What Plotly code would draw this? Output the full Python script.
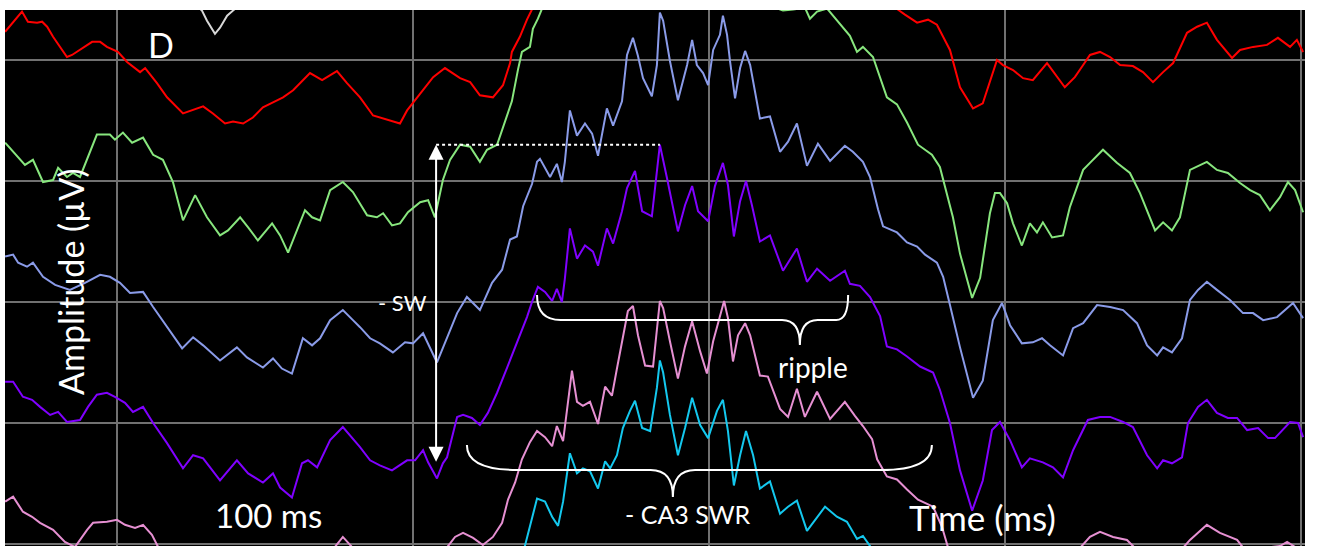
import plotly.graph_objects as go

# Stacked LFP channels: (time in ms, amplitude in µV relative to the channel baseline)
CHANNEL_STEP = 120  # µV between stacked channel baselines

ch_white = [(23.0, -56), (28.7, -71), (30.4, -81), (33.1, -94), (34.8, -88), (37.2, -76),
            (39.2, -71), (44.9, -56)]

ch_red = [(-37.8, 28), (-32.1, 48), (-30.1, 38), (-27.0, 37), (-25.3, 38), (-23.6, 33), (-21.6, 23),
          (-16.9, 3), (-15.2, 5), (-12.5, 10), (-8.4, 18), (-5.7, 18), (-3.4, 13), (0.3, 8), (3.4, -2),
          (7.8, -12), (9.5, -8), (13.5, -23), (16.9, -37), (22.3, -53), (25.3, -50), (29.1, -46),
          (32.4, -53), (36.5, -63), (39.2, -61), (42.6, -63), (45.9, -57), (49.3, -47), (52.7, -42),
          (56.1, -37), (59.5, -30), (65.2, -13), (69.3, -20), (74.3, -11), (77.7, -23), (82.1, -37),
          (86.5, -55), (92.2, -60), (95.6, -63), (98.0, -50), (101.4, -37), (106.8, -17), (110.8, -8),
          (115.9, -18), (119.3, -22), (122.6, -35), (127.0, -37), (130.4, -25), (132.8, -3), (133.4, 8),
          (136.1, 23), (138.5, 40), (140.5, 52), (149.7, 100), (197.0, 140), (251.0, 100), (261.1, 60),
          (263.8, 50), (266.2, 45), (270.3, 37), (274.0, 40), (277.0, 35), (281.4, 10), (284.8, -27),
          (289.2, -48), (292.5, -43), (297.3, 0), (299.3, -5), (302.7, -10), (306.1, -18), (309.4, -20),
          (314.2, -3), (320.2, -27), (323.6, -17), (326.4, -5), (328.7, 5), (332.1, 8), (335.5, 3),
          (338.9, -5), (343.2, -6), (346.6, -12), (350.0, -22), (353.4, -12), (356.8, -3), (361.5, 27),
          (364.9, 33), (368.2, 37), (371.6, 20), (376.7, 2), (379.4, 10), (383.8, 13), (388.5, 15),
          (392.2, 22), (396.3, 13), (398.6, 20), (400.7, 8)]

ch_green = [(-37.8, 38), (-35.1, 29), (-31.1, 16), (-28.4, 21), (-25.0, -1), (-21.6, 1), (-19.9, 13),
            (-16.9, 4), (-14.9, 8), (-12.5, 4), (-10.1, 21), (-6.8, 46), (-2.4, 46), (-0.7, 41), (2.0, 48),
            (5.1, 38), (8.8, 43), (12.2, 26), (15.5, 21), (18.9, -1), (22.3, -39), (26.4, -14),
            (30.4, -36), (34.8, -54), (37.5, -49), (41.6, -36), (44.3, -46), (47.6, -59), (52.4, -42),
            (55.1, -54), (57.8, -71), (61.1, -46), (63.5, -29), (65.9, -36), (68.6, -39), (72.0, -9),
            (76.3, -1), (79.7, -11), (84.5, -34), (87.8, -36), (89.9, -32), (92.9, -44), (95.6, -42),
            (98.3, -31), (102.4, -21), (105.1, -19), (107.4, -36), (110.1, 1), (112.5, 21), (115.9, 36),
            (119.3, 34), (122.6, 19), (125.0, 31), (128.4, 36), (130.4, 54), (133.4, 79), (135.5, 111),
            (136.8, 128), (139.5, 133), (140.5, 151), (142.2, 161), (143.6, 171), (149.7, 211),
            (180.1, 251), (210.5, 211), (219.9, 181), (222.3, 172), (225.0, 169), (228.4, 170),
            (232.4, 172), (234.1, 161), (236.5, 168), (239.9, 171), (244.3, 156), (247.6, 144),
            (250.0, 128), (252.0, 133), (255.4, 123), (257.8, 103), (260.1, 83), (263.5, 76), (266.9, 58),
            (270.6, 36), (275.3, 26), (278.0, 14), (282.4, -36), (284.8, -72), (288.9, -116),
            (291.6, -96), (294.9, -32), (296.6, -12), (298.3, -12), (300.7, -22), (302.7, -42),
            (305.7, -64), (308.4, -42), (310.8, -51), (312.8, -41), (315.9, -56), (319.6, -54),
            (321.9, -26), (326.4, 11), (328.7, 18), (333.1, 31), (337.8, 18), (342.2, 8), (345.6, -12),
            (350.7, -49), (353.4, -41), (356.4, -49), (359.1, -36), (362.5, 11), (368.2, 19), (371.6, 11),
            (375.3, 8), (379.4, -2), (382.8, -9), (386.1, -14), (389.5, -29), (392.9, -16), (395.6, -1),
            (398.0, -9), (400.7, -31)]

ch_blue = [(-37.8, 45), (-35.1, 47), (-33.4, 39), (-30.4, 35), (-28.4, 39), (-25.0, 25), (-20.9, 17),
           (-15.9, 12), (-10.8, 19), (-5.7, 27), (-2.4, 25), (1.0, 19), (4.4, 9), (8.8, 10), (12.2, -5),
           (16.9, -25), (22.0, -46), (25.7, -35), (29.1, -43), (34.8, -58), (40.5, -45), (43.9, -55),
           (49.3, -65), (52.7, -56), (55.7, -66), (59.1, -71), (62.8, -36), (65.9, -43), (68.6, -36),
           (72.0, -18), (76.3, -8), (79.7, -18), (82.1, -25), (85.5, -36), (88.8, -41), (93.2, -50),
           (97.3, -40), (100.0, -41), (103.4, -31), (108.1, -60), (111.5, -35), (114.9, -11), (118.2, 5),
           (122.6, -8), (126.7, 19), (130.1, 32), (132.8, 62), (135.1, 65), (137.2, 95), (140.2, 117),
           (141.9, 139), (142.9, 142), (146.3, 124), (148.6, 137), (150.3, 119), (151.3, 139),
           (153.0, 190), (155.4, 165), (158.1, 177), (160.5, 167), (162.5, 145), (165.5, 192),
           (167.6, 175), (170.6, 199), (172.3, 245), (174.3, 262), (176.0, 244), (177.7, 222),
           (180.7, 204), (182.4, 235), (183.4, 287), (184.5, 279), (186.8, 239), (189.5, 200),
           (192.6, 235), (194.3, 260), (195.9, 235), (198.0, 227), (199.7, 215), (201.4, 250),
           (203.7, 265), (204.7, 284), (206.1, 265), (207.1, 239), (208.8, 202), (210.5, 232),
           (212.2, 249), (213.9, 235), (217.2, 182), (220.6, 184), (224.0, 149), (226.7, 159),
           (229.7, 177), (233.1, 135), (236.8, 157), (240.9, 140), (245.9, 155), (248.6, 149),
           (252.0, 139), (254.4, 124), (257.1, 92), (258.8, 75), (263.5, 69), (266.9, 59), (270.3, 55),
           (273.0, 47), (277.0, 39), (279.1, 25), (281.4, -3), (284.8, -45), (289.2, -95), (292.5, -78),
           (295.9, -18), (299.0, -1), (301.7, -23), (305.7, -41), (309.4, -40), (312.5, -36),
           (315.2, -43), (319.6, -53), (323.0, -26), (326.4, -21), (331.1, -3), (335.5, -5), (339.9, -8),
           (344.6, -21), (348.0, -43), (351.4, -53), (353.4, -45), (356.4, -50), (359.8, -36),
           (362.5, 2), (365.2, 12), (368.2, 20), (371.6, 12), (376.0, 2), (380.4, -11), (383.8, -11),
           (387.2, -18), (391.9, -15), (397.3, -1), (400.7, -16)]

ch_purple = [(-37.8, 41), (-35.1, 41), (-31.8, 26), (-28.7, 23), (-26.0, 16), (-22.6, 8), (-19.9, 11),
             (-16.9, 1), (-12.5, 3), (-9.8, 16), (-6.8, 28), (-3.4, 30), (-0.7, 26), (2.7, 20), (5.4, 11),
             (8.8, 16), (12.2, 0), (16.9, -20), (22.3, -45), (25.7, -32), (29.1, -35), (34.8, -57),
             (40.5, -37), (44.3, -50), (49.3, -59), (52.7, -50), (55.1, -64), (59.1, -74), (62.5, -40),
             (64.5, -37), (67.6, -44), (72.0, -17), (76.3, -4), (82.1, -24), (85.5, -37), (88.8, -42),
             (92.9, -47), (98.0, -37), (100.7, -37), (103.4, -27), (105.1, -39), (108.1, -55),
             (110.1, -40), (111.5, -34), (114.9, 6), (116.9, 8), (119.9, 5), (122.6, -2), (125.3, 10),
             (128.4, 30), (131.8, 55), (133.8, 70), (136.1, 88), (138.5, 105), (140.2, 120), (142.2, 135),
             (144.6, 130), (147.0, 121), (148.6, 133), (150.3, 120), (151.3, 143), (153.0, 193),
             (155.4, 163), (158.1, 176), (160.8, 170), (162.5, 156), (165.5, 193), (167.6, 178),
             (170.6, 210), (172.3, 233), (175.0, 250), (177.4, 210), (180.7, 205), (182.4, 246),
             (183.4, 276), (185.8, 243), (189.5, 190), (191.9, 216), (194.3, 235), (196.3, 210),
             (199.7, 200), (202.0, 235), (204.7, 258), (206.4, 236), (208.4, 185), (210.5, 220),
             (212.5, 240), (214.5, 216), (217.2, 180), (220.6, 186), (225.0, 151), (229.7, 173),
             (233.1, 140), (236.5, 153), (240.9, 141), (245.9, 151), (247.6, 138), (251.0, 136),
             (254.4, 125), (257.8, 106), (260.1, 76), (263.5, 73), (266.9, 66), (271.3, 56), (275.7, 50),
             (278.0, 33), (281.4, 0), (284.8, -47), (288.9, -87), (292.5, -57), (295.6, -7), (298.3, 1),
             (301.7, -17), (305.7, -44), (308.4, -35), (312.8, -39), (316.2, -44), (319.6, -54),
             (323.0, -27), (328.0, 3), (332.1, 6), (335.5, 6), (339.9, 1), (343.2, -4), (348.0, -32),
             (351.4, -45), (353.4, -37), (356.4, -40), (359.8, -34), (361.8, 0), (365.2, 16), (368.2, 23),
             (371.6, 10), (375.3, 5), (378.4, 5), (381.8, -7), (385.5, -5), (388.9, -15), (391.2, -15),
             (396.3, 1), (399.0, 0), (400.7, -14)]

ch_pink = [(-37.8, 42), (-35.1, 47), (-31.8, 32), (-28.7, 27), (-26.0, 21), (-21.6, 14), (-17.6, 2),
           (-14.2, -3), (-10.1, 14), (-8.1, 21), (-3.4, 22), (0.0, 24), (2.7, 19), (6.1, 16), (8.8, 19),
           (11.8, 9), (13.9, -3), (21.3, -26), (44.9, -41), (68.6, -21), (73.6, -3), (76.3, 7), (79.4, -3),
           (88.8, -21), (102.4, -26), (110.8, -6), (114.2, 7), (116.9, 11), (120.3, 6), (123.6, -1),
           (127.0, 7), (130.1, 21), (132.1, 44), (134.5, 61), (136.8, 84), (139.5, 101), (141.9, 112),
           (144.6, 106), (147.0, 97), (148.6, 117), (150.7, 102), (152.4, 139), (153.7, 172),
           (155.4, 141), (157.4, 137), (159.8, 141), (162.5, 119), (164.9, 156), (167.2, 147),
           (168.9, 174), (170.9, 207), (172.6, 231), (174.3, 236), (176.0, 207), (178.4, 177),
           (181.1, 176), (183.4, 241), (184.5, 234), (186.8, 201), (189.5, 164), (191.9, 196),
           (194.3, 221), (197.0, 191), (199.3, 169), (201.4, 201), (203.7, 227), (205.1, 241),
           (206.4, 224), (208.1, 181), (209.8, 207), (212.2, 219), (213.9, 207), (217.2, 167),
           (219.9, 166), (224.0, 134), (226.7, 126), (229.7, 154), (232.4, 126), (236.5, 151),
           (240.9, 124), (245.9, 141), (249.3, 127), (252.0, 117), (255.1, 104), (256.8, 84), (260.1, 67),
           (263.5, 64), (266.9, 54), (270.6, 44), (275.7, 37), (278.7, 17), (280.7, -3), (288.2, -56),
           (298.3, -36), (318.6, -21), (325.3, -4), (328.7, 7), (332.1, 12), (336.5, 7), (341.2, 4),
           (343.9, -4), (352.4, -16), (360.1, -4), (362.5, 4), (368.2, 19), (372.6, 11), (378.4, 4),
           (381.1, -6), (392.9, -2), (395.3, 2), (398.0, -3), (401.4, -11)]

ch_cyan = [(129.4, 65), (134.5, 95), (137.8, 118), (139.5, 138), (141.9, 165), (144.6, 162), (147.0, 147),
           (149.0, 138), (150.7, 162), (153.0, 210), (155.4, 190), (157.4, 195), (159.8, 192), (162.5, 175),
           (164.9, 202), (166.6, 195), (168.9, 208), (170.9, 235), (173.3, 252), (175.0, 262), (177.4, 235),
           (180.1, 232), (182.4, 275), (183.4, 302), (184.5, 290), (186.8, 248), (189.5, 208), (191.9, 235),
           (194.3, 265), (197.0, 238), (199.7, 225), (202.7, 252), (204.7, 263), (206.4, 232), (208.4, 178),
           (210.5, 208), (212.5, 232), (214.9, 208), (217.2, 175), (220.6, 182), (224.0, 150), (226.7, 157),
           (229.7, 163), (233.1, 133), (236.5, 147), (239.2, 157), (243.2, 147), (246.6, 142), (250.0, 125),
           (252.0, 128), (254.4, 118), (261.1, 85), (267.9, 55)]

# channel list: samples, colour, slot in the stack (0 = top visible channel)
channels = [
    (ch_white, "#d8d8d8", -1),
    (ch_red, "#ff0000", 0),
    (ch_green, "#88e67e", 1),
    (ch_blue, "#8a9be8", 2),
    (ch_purple, "#8000ff", 3),
    (ch_pink, "#e690d2", 4),
    (ch_cyan, "#14c8ee", 5),
]

# event markers (ms / µV)
SW_T = 107.8            # sharp-wave trough time
SW_BOTTOM = -400.0      # lower end of the SW amplitude arrow
PURPLE_SLOT = 3
RIPPLE = dict(start=141.9, end=247.0, tip=230.7, line=-257.8, end_y=-233.0, tip_y=-282.6, hook_l=8.0, hook_r=4.0, tip_w=6.0)
SWR = dict(start=118.2, end=275.3, tip=187.8, line=-406.6, end_y=-381.8, tip_y=-433.4, hook_l=17.0, hook_r=17.0, tip_w=7.5)

X_RANGE = [-37.84, 401.35]
Y_RANGE = [-482.0, 49.6]

fig = go.Figure()
for samples, color, slot in channels:
    t = [p[0] for p in samples]
    y = [p[1] - slot * CHANNEL_STEP for p in samples]
    fig.add_trace(go.Scatter(x=t, y=y, mode="lines", line=dict(color=color, width=2),
                             hoverinfo="skip", showlegend=False))

# SW amplitude: from the trough level up to the largest ripple peak of the purple channel
peak_t, peak_v = max(ch_purple, key=lambda p: p[1])
sw_top = peak_v - PURPLE_SLOT * CHANNEL_STEP


def brace(b):
    x0, x1, xt = b["start"], b["end"], b["tip"]
    yl, ye, yt = b["line"], b["end_y"], b["tip_y"]
    return (f"M {x0},{ye} Q {x0},{yl} {x0 + b['hook_l']},{yl} "
            f"L {xt - b['tip_w']},{yl} Q {xt},{yl} {xt},{yt} "
            f"Q {xt},{yl} {xt + b['tip_w']},{yl} "
            f"L {x1 - b['hook_r']},{yl} Q {x1},{yl} {x1},{ye}")


for b in (RIPPLE, SWR):
    fig.add_shape(type="path", path=brace(b), xref="x", yref="y",
                  line=dict(color="white", width=2), layer="above")

fig.add_shape(type="line", x0=SW_T, x1=peak_t, y0=sw_top, y1=sw_top, xref="x", yref="y",
              line=dict(color="white", width=2, dash="dot"), layer="above")

fig.add_annotation(x=SW_T, y=sw_top, ax=SW_T, ay=SW_BOTTOM, xref="x", yref="y", axref="x", ayref="y",
                   text="", showarrow=True, arrowhead=2, startarrowhead=2, arrowside="end+start",
                   arrowsize=1.5, startarrowsize=1.5, arrowwidth=2, arrowcolor="white")

FONT = "Lato, 'Open Sans', sans-serif"
labels = [
    ("D", 14.9, 14.9, 34, 0),
    ("Amplitude (µV)", -15.5, -220.0, 34, -90),
    ("- SW", 96.3, -240.0, 22, 0),
    ("100 ms", 51.2, -451.0, 33, 0),
    ("ripple", 235.1, -304.5, 28, 0),
    ("- CA3 SWR", 192.9, -450.0, 25, 0),
    ("Time (ms)", 292.5, -453.0, 35, 0),
]
for text, x, y, size, angle in labels:
    fig.add_annotation(x=x, y=y, xref="x", yref="y", text=text, showarrow=False, textangle=angle,
                       font=dict(family=FONT, size=size, color="white"))

grid = dict(showgrid=True, gridcolor="#717171", gridwidth=2, zeroline=False, showline=False,
            showticklabels=False, ticks="", tick0=0)
fig.update_xaxes(range=X_RANGE, dtick=100, **grid)
fig.update_yaxes(range=Y_RANGE, dtick=CHANNEL_STEP, **grid)
fig.update_layout(width=1324, height=546, margin=dict(l=5, r=19, t=10, b=0),
                  paper_bgcolor="white", plot_bgcolor="black")

fig.write_html("out.html", config={"displayModeBar": False})
